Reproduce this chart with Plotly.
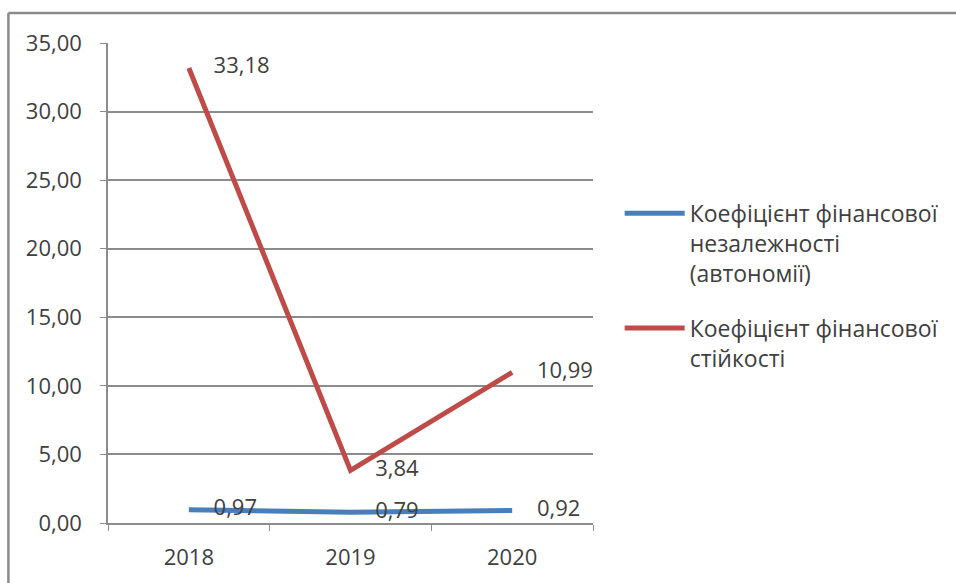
import plotly.graph_objects as go

years = ["2018", "2019", "2020"]
autonomy = [0.97, 0.79, 0.92]
stability = [33.18, 3.84, 10.99]
name_autonomy = "Коефіцієнт фінансової<br>незалежності<br>(автономії)"
name_stability = "Коефіцієнт фінансової<br>стійкості"
y_ticks = [0, 5, 10, 15, 20, 25, 30, 35]

FONT = "Open Sans"
TXT = "#404040"
GRID = "#8c8c8c"
BLUE = "#4A7EBB"
RED = "#BE4B48"

fig = go.Figure()
for i, (vals, name, col) in enumerate([(autonomy, name_autonomy, BLUE), (stability, name_stability, RED)]):
    fig.add_trace(go.Scatter(
        x=years, y=vals, name=name, mode="lines", legendgroup=f"g{i}",
        line=dict(color=col, width=5), hoverinfo="skip",
    ))
for vals, col in [(autonomy, BLUE), (stability, RED)]:
    fig.add_trace(go.Scatter(
        x=years, y=vals, mode="markers+text", showlegend=False,
        marker=dict(size=38, opacity=0, color=col),
        texttemplate="%{y:.2f}", textposition="middle right",
        textfont=dict(family=FONT, size=22, color=TXT),
        hoverinfo="skip",
    ))

px0 = (8 - 108) / 487
py1 = (523 - 13) / 480

fig.update_layout(
    width=956, height=583,
    margin=dict(l=108, r=361, t=43, b=60),
    paper_bgcolor="white", plot_bgcolor="white",
    separators=",.",
    font=dict(family=FONT, size=22, color=TXT),
    showlegend=True,
    legend=dict(
        x=1.055, y=0.69, xanchor="left", yanchor="top",
        font=dict(family=FONT, size=23, color=TXT),
        traceorder="grouped", tracegroupgap=22, itemwidth=60,
        bgcolor="rgba(0,0,0,0)", valign="top",
    ),
    xaxis=dict(
        type="category", range=[-0.5, 2.5],
        showline=True, linecolor=GRID, linewidth=1.5,
        ticks="outside", ticklen=6, tickcolor=GRID, tickson="boundaries",
        showgrid=False, tickfont=dict(family=FONT, size=22, color=TXT),
        ticklabelstandoff=14,
    ),
    yaxis=dict(
        range=[0, 35], tickvals=y_ticks, tickformat=".2f",
        showline=True, linecolor=GRID, linewidth=1.5,
        ticks="outside", ticklen=6, tickcolor=GRID,
        showgrid=True, gridcolor=GRID, gridwidth=1.5,
        zeroline=False,
        tickfont=dict(family=FONT, size=22, color=TXT),
        ticklabelstandoff=14,
    ),
    shapes=[
        dict(type="line", xref="paper", yref="paper",
             x0=px0, x1=2.0, y0=py1, y1=py1,
             line=dict(color="#8a8a8a", width=2.5), layer="below"),
        dict(type="line", xref="paper", yref="paper",
             x0=px0, x1=px0, y0=-1.0, y1=py1,
             line=dict(color="#8a8a8a", width=2.5), layer="below"),
    ],
)

fig.write_html("out.html", config={"displayModeBar": False})
